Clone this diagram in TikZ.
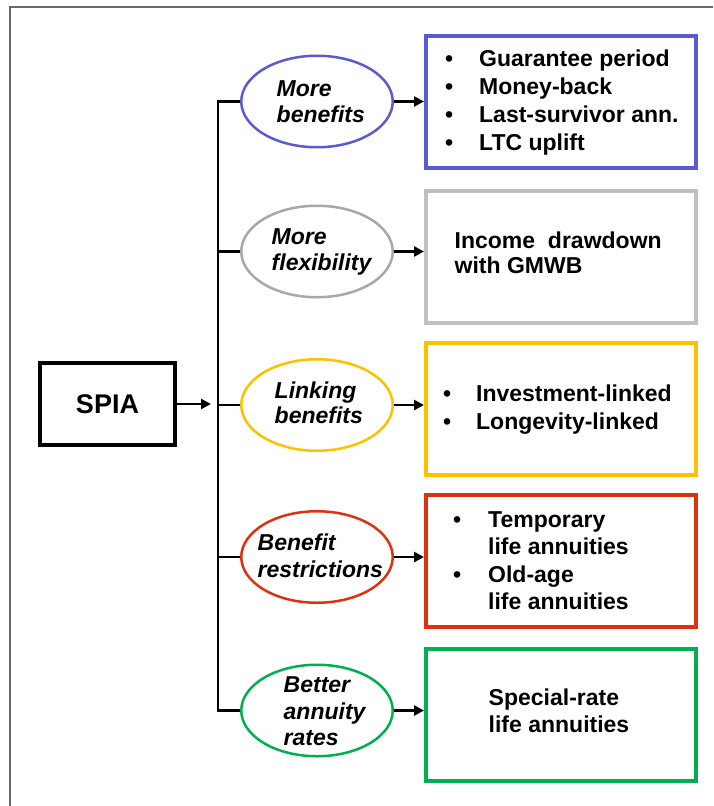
\documentclass[tikz,border=0pt]{standalone}
\usepackage{fontspec}
\setmainfont{Liberation Sans}
\usetikzlibrary{shapes.geometric,arrows.meta}

\definecolor{frameg}{RGB}{105,105,105}
\definecolor{cblue}{RGB}{90,90,212}
\definecolor{cgraybox}{RGB}{192,192,192}
\definecolor{cgrayell}{RGB}{168,168,168}
\definecolor{cyellow}{RGB}{255,192,0}
\definecolor{cred}{RGB}{222,50,14}
\definecolor{cgreen}{RGB}{0,176,80}

% text block with a given line spacing
\newcommand{\txtblock}[2]{{\fontsize{23}{#1}\selectfont\begin{tabular}{@{}l@{}l@{}}#2\end{tabular}}}
% bullet centred in 20pt, followed by a gap of #1
\newcommand{\bul}[1]{\makebox[20pt]{\textbullet}\hspace{#1}}

\tikzset{
  conn/.style={line width=2.6pt, black, line join=miter},
  arr/.style={conn, -{Triangle[length=10pt,width=10pt]}},
  option/.style={ellipse, line width=2.5pt, minimum width=151.5pt, minimum height=91.5pt, inner sep=0pt},
  outbox/.style={rectangle, line width=4pt, minimum width=270pt, minimum height=132pt, inner sep=0pt},
  txt/.style={inner sep=0pt, anchor=west, font=\bfseries},
  itxt/.style={inner sep=0pt, anchor=west, font=\bfseries\itshape},
}

\begin{document}
\begin{tikzpicture}[x=1pt,y=-1pt]
\useasboundingbox (0,0) rectangle (713,806);

% frame
\draw[frameg, line width=2pt] (10,806) -- (10,6.5) -- (713,6.5);

% root
\node[draw, rectangle, line width=4.2pt, minimum width=135pt, minimum height=82pt, inner sep=0pt,
      font=\bfseries\fontsize{27}{32}\selectfont] (spia) at (107.5,404) {SPIA};

% option ellipses
\node[option, draw=cblue]    (e1) at (317,101.5) {};
\node[option, draw=cgrayell] (e2) at (317,251.5) {};
\node[option, draw=cyellow]  (e3) at (317,405)   {};
\node[option, draw=cred]     (e4) at (317,557)   {};
\node[option, draw=cgreen]   (e5) at (317,710.5) {};

\node[itxt] (t1) at (276.5,103.8) {\txtblock{26}{More\\benefits}};
\node[itxt] (t2) at (271.5,252.2) {\txtblock{26.4}{More\\flexibility}};
\node[itxt] (t3) at (274.5,406)   {\txtblock{25.7}{Linking\\benefits}};
\node[itxt] (t4) at (257.5,558.8) {\txtblock{27}{Benefit\\restrictions}};
\node[itxt] (t5) at (283.5,714)   {\txtblock{26.4}{Better\\annuity\\rates}};

% result boxes
\node[outbox, draw=cblue]    (b1) at (561,101.5) {};
\node[outbox, draw=cgraybox] (b2) at (561,256.5) {};
\node[outbox, draw=cyellow]  (b3) at (561,409)   {};
\node[outbox, draw=cred]     (b4) at (561,561)   {};
\node[outbox, draw=cgreen]   (b5) at (561,714.5) {};

\node[txt] (l1) at (439,102.8) {\txtblock{28.3}{\bul{20pt} & Guarantee period\\\bul{20pt} & Money-back\\\bul{20pt} & Last-survivor ann.\\\bul{20pt} & LTC uplift}};
\node[txt] (l2) at (454.5,255.5) {\txtblock{25}{Income\ \ drawdown\\with GMWB}};
\node[txt] (l3) at (437,410)   {\txtblock{28}{\bul{19pt} & Investment-linked\\\bul{19pt} & Longevity-linked}};
\node[txt] (l4) at (447,563.1) {\txtblock{27.2}{\bul{21pt} & Temporary\\ & life annuities\\\bul{21pt} & Old-age\\ & life annuities}};
\node[txt] (l5) at (488.5,713.2) {\txtblock{27.3}{Special-rate\\life annuities}};

% connectors
\coordinate (hub) at (211,404);
\coordinate (trunk) at (218,404);
\draw[arr] (spia.east) -- (hub);
\draw[conn] (e1.west) -| (trunk) |- (e5.west);
\draw[conn] (e2.west) -- (e2.west -| trunk);
\draw[conn] (e3.west) -- (e3.west -| trunk);
\draw[conn] (e4.west) -- (e4.west -| trunk);

\draw[arr] (e1.east) -- (e1.east -| b1.west);
\draw[arr] (e2.east) -- (e2.east -| b2.west);
\draw[arr] (e3.east) -- (e3.east -| b3.west);
\draw[arr] (e4.east) -- (e4.east -| b4.west);
\draw[arr] (e5.east) -- (e5.east -| b5.west);
\end{tikzpicture}
\end{document}
